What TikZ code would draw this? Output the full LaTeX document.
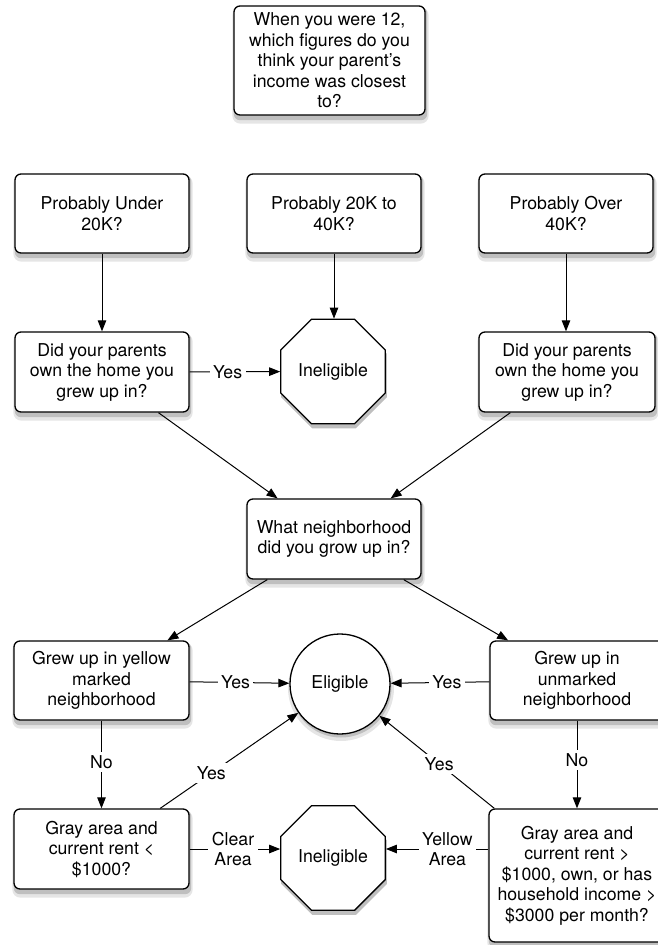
\documentclass[tikz,border=0pt]{standalone}
\usepackage{fontspec}
\setmainfont{TeX Gyre Heros}
\usetikzlibrary{arrows.meta,shapes.geometric,backgrounds}
\begin{document}
\begin{tikzpicture}[x=1pt,y=-1pt,
  font=\fontsize{17.7}{20.5}\selectfont,
  box/.style={draw, line width=1.3pt, rounded corners=6pt, fill=white, align=center,
    inner sep=2pt},
  octa/.style={draw, line width=1.3pt, regular polygon, regular polygon sides=8,
    minimum size=113pt, fill=white, inner sep=0pt},
  circ/.style={draw, line width=1.3pt, circle, minimum size=100pt, fill=white,
    inner sep=0pt},
  conn/.style={line width=1pt, -{Triangle[length=11pt,width=8.5pt]}},
  lab/.style={fill=white, inner sep=3.5pt, align=center},
  shadowfar/.style={fill=black!10},
  shadownear/.style={fill=black!25}
]
\useasboundingbox (0,0) rectangle (658,945);

% nodes
\node[box, minimum width=191pt, minimum height=109pt] (q) at (329.5,60.5)
  {When you were 12,\\which figures do you\\think your parent's\\income was closest\\to?};

\node[box, minimum width=174pt, minimum height=79pt] (under) at (102,213.5) {Probably Under\\20K?};
\node[box, minimum width=174pt, minimum height=79pt] (mid) at (334,213.5) {Probably 20K to\\40K?};
\node[box, minimum width=174pt, minimum height=79pt] (over) at (566,213.5) {Probably Over\\40K?};

\node[box, minimum width=174pt, minimum height=80pt] (own1) at (102,372) {Did your parents\\own the home you\\grew up in?};
\node[octa] (inel1) at (333,371.5) {Ineligible};
\node[box, minimum width=176pt, minimum height=80pt] (own2) at (567,372) {Did your parents\\own the home you\\grew up in?};

\node[box, minimum width=174pt, minimum height=80pt] (nb) at (334,539) {What neighborhood\\did you grow up in?};

\node[box, minimum width=175pt, minimum height=79pt] (yellow) at (101.5,680.5) {Grew up in yellow\\marked\\neighborhood};
\node[circ] (elig) at (340,684) {Eligible};
\node[box, minimum width=174pt, minimum height=79pt] (unmarked) at (577,680.5) {Grew up in\\unmarked\\neighborhood};

\node[box, minimum width=175pt, minimum height=80pt] (gray1) at (101.5,849) {Gray area and\\current rent <\\\$1000?};
\node[octa] (inel2) at (333,858) {Ineligible};
\node[box, minimum width=176pt, minimum height=133pt] (gray2) at (577,875.5)
  {Gray area and\\current rent >\\\$1000, own, or has\\household income >\\\$3000 per month?};

% shadows
\begin{scope}[on background layer]
\foreach \n in {q,under,mid,over,own1,own2,nb,yellow,unmarked,gray1,gray2} {
  \fill[shadowfar, rounded corners=8pt] ([shift={(-1,2)}]\n.north west) rectangle ([shift={(3,8)}]\n.south east);
  \fill[shadownear, rounded corners=6pt] ([shift={(0.5,2)}]\n.north west) rectangle ([shift={(1.5,4.5)}]\n.south east);
}
\fill[shadowfar] ([shift={(1,4)}]elig.center) circle (53pt);
\fill[shadownear] ([shift={(1,3)}]elig.center) circle (50.5pt);
\foreach \n in {inel1,inel2} {
  \fill[shadownear] ([shift={(1,4)}]\n.corner 1) -- ([shift={(1,4)}]\n.corner 2) -- ([shift={(1,4)}]\n.corner 3)
    -- ([shift={(1,4)}]\n.corner 4) -- ([shift={(1,4)}]\n.corner 5) -- ([shift={(1,4)}]\n.corner 6)
    -- ([shift={(1,4)}]\n.corner 7) -- ([shift={(1,4)}]\n.corner 8) -- cycle;
}
\end{scope}

% connectors
\draw[conn] (under) -- (own1);
\draw[conn] (mid) -- (mid |- inel1.north);
\draw[conn] (over) -- (over |- own2.north);
\draw[conn] (own1) -- node[lab, pos=0.42] {Yes} (inel1);
\draw[conn] (own1) -- (nb);
\draw[conn] (own2) -- (nb);
\draw[conn] (nb) -- (yellow);
\draw[conn] (nb) -- (unmarked);
\draw[conn] (yellow) -- node[lab, pos=0.46] {Yes} (elig);
\draw[conn] (unmarked) -- node[lab, pos=0.43] {Yes} (elig);
\draw[conn] (yellow) -- node[lab, pos=0.47] {No} (gray1);
\draw[conn] (unmarked) -- node[lab, pos=0.45] {No} (gray2);
\draw[conn] (gray1) -- node[lab, pos=0.37] {Yes} (elig);
\draw[conn] ([xshift=6pt]gray2.north west) -- node[lab, pos=0.48] {Yes} (elig);
\draw[conn] (gray1.east) -- node[lab, pos=0.48] {Clear\\Area} (gray1.east -| inel2.west);
\draw[conn] (gray2.west |- gray1.east) -- node[lab, pos=0.4] {Yellow\\Area} (inel2.east |- gray1.east);
\end{tikzpicture}
\end{document}
